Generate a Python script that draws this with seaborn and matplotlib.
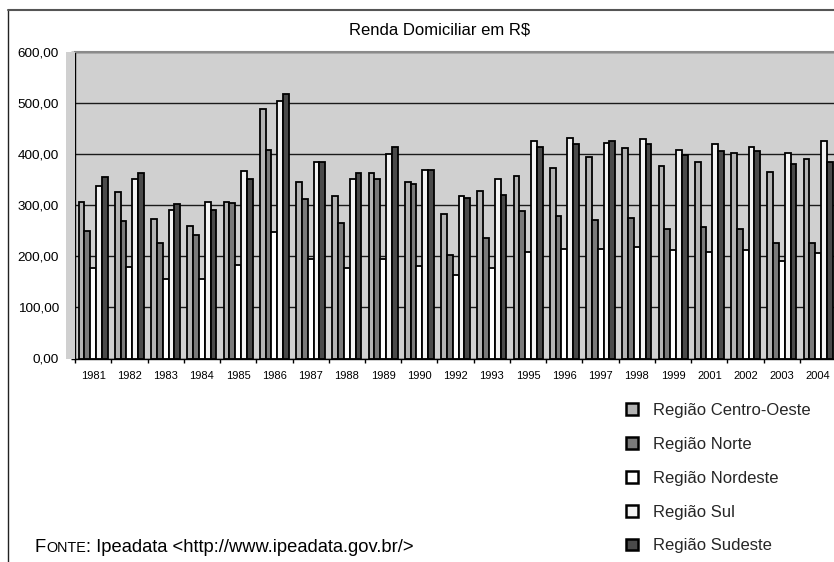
import matplotlib
matplotlib.use("Agg")
import matplotlib.pyplot as plt
from matplotlib.patches import Patch, Rectangle
from matplotlib.lines import Line2D
import seaborn as sns
import pandas as pd

years = ['1981', '1982', '1983', '1984', '1985', '1986', '1987', '1988', '1989', '1990',
         '1992', '1993', '1995', '1996', '1997', '1998', '1999', '2001', '2002', '2003', '2004']
regions = ['Região Centro-Oeste', 'Região Norte', 'Região Nordeste', 'Região Sul', 'Região Sudeste']
centro_oeste = [307, 326, 273, 259, 307, 489, 345, 319, 364, 345, 283, 328, 358, 372, 395, 412, 377, 384, 403, 366, 390]
norte = [249, 270, 227, 241, 304, 409, 313, 266, 351, 342, 203, 235, 288, 278, 272, 275, 254, 257, 254, 227, 227]
nordeste = [177, 179, 156, 156, 184, 248, 194, 177, 194, 182, 163, 177, 209, 214, 214, 219, 212, 209, 212, 190, 207]
sul = [337, 351, 291, 307, 367, 504, 384, 351, 400, 369, 318, 351, 425, 431, 422, 430, 409, 419, 414, 403, 425]
sudeste = [356, 364, 302, 291, 351, 518, 384, 364, 414, 369, 315, 321, 414, 419, 425, 420, 399, 406, 407, 380, 384]
y_ticks = [0, 100, 200, 300, 400, 500, 600]
y_tick_labels = ['0,00', '100,00', '200,00', '300,00', '400,00', '500,00', '600,00']
colors = ['#B3B3B3', '#7A7A7A', '#FFFFFF', '#F3F3F3', '#4A4A4A']

series = [centro_oeste, norte, nordeste, sul, sudeste]
rows = []
for reg, vals in zip(regions, series):
    for yr, v in zip(years, vals):
        rows.append({'Ano': yr, 'Região': reg, 'Renda': v})
df = pd.DataFrame(rows)

sns.set_theme(style='white')
plt.rcParams['font.family'] = ['Liberation Sans', 'DejaVu Sans']

W, H = 834, 562
fig = plt.figure(figsize=(W / 100, H / 100), dpi=100)

ax_left, ax_right = 75, 836.25
ax_top, ax_bottom = 52, 358.5
ax = fig.add_axes([ax_left / W, (H - ax_bottom) / H, (ax_right - ax_left) / W, (ax_bottom - ax_top) / H])
ax.set_facecolor('#D0D0D0')

sns.barplot(data=df, x='Ano', y='Renda', hue='Região', order=years, hue_order=regions,
            palette=colors, edgecolor='black', linewidth=1.3, width=0.8, ax=ax,
            legend=False, errorbar=None, saturation=1)

ax.set_xlim(-0.5, len(years) - 0.5)
ax.set_ylim(0, 600)
ax.set_yticks(y_ticks)
ax.set_yticklabels(y_tick_labels, fontsize=9.7)
ax.set_xlabel('')
ax.set_ylabel('')
ax.set_axisbelow(True)
ax.yaxis.grid(True, color='#1a1a1a', linewidth=1.0)
ax.xaxis.grid(False)
ax.tick_params(axis='y', length=3, width=1, color='black', pad=8.5, direction='out', left=True)
ax.tick_params(axis='x', which='major', length=0, pad=9, labelsize=8)
ax.set_xticks([i + 0.5 for i in range(-1, len(years))], minor=True)
ax.tick_params(axis='x', which='minor', length=3, width=1, color='black', direction='out', bottom=True)
for lab in ax.get_xticklabels() + ax.get_yticklabels():
    lab.set_color('black')

ax.spines['left'].set_color('black')
ax.spines['left'].set_linewidth(1.0)
ax.spines['bottom'].set_color('black')
ax.spines['bottom'].set_linewidth(1.0)
ax.spines['top'].set_color('#8a8a8a')
ax.spines['top'].set_linewidth(1.5)
ax.spines['right'].set_visible(False)

# gray strip left of the value axis (plot-area wall)
fig.patches.append(Rectangle((66 / W, (H - ax_bottom) / H), 9 / W, (ax_bottom - ax_top) / H,
                             transform=fig.transFigure, facecolor='#D0D0D0', edgecolor='none', zorder=0))

# outer chart frame
fig.lines.append(Line2D([7.5 / W, 7.5 / W], [0, (H - 10) / H], transform=fig.transFigure,
                        color='#222222', linewidth=1.0))
fig.lines.append(Line2D([7.5 / W, 1.0], [(H - 10) / H, (H - 10) / H], transform=fig.transFigure,
                        color='#555555', linewidth=1.5))

fig.text(440 / W, (H - 30) / H, 'Renda Domiciliar em R$', ha='center', va='center',
         fontsize=12, color='black')

handles = [Patch(facecolor=c, edgecolor='black', linewidth=1.8) for c in colors]
fig.legend(handles, regions, loc='upper left', bbox_to_anchor=(626 / W, (H - 403) / H),
           frameon=False, fontsize=12, handlelength=0.72, handleheight=0.72,
           handletextpad=0.9, labelspacing=1.13, borderpad=0, borderaxespad=0)

t1 = fig.text(35 / W, (H - 545) / H, 'F', fontsize=13.2, ha='left', va='center_baseline', color='black')
o = plt.annotate('ONTE', xy=(1, 0), xycoords=t1, xytext=(0, 0), textcoords='offset points',
                 fontsize=10.4, ha='left', va='bottom', color='black', annotation_clip=False)
plt.annotate(': Ipeadata <http://www.ipeadata.gov.br/>', xy=(1, 0), xycoords=o, xytext=(0, 0),
             textcoords='offset points', fontsize=13.2, ha='left', va='bottom', color='black',
             annotation_clip=False)

fig.savefig('out.png', dpi=100)
